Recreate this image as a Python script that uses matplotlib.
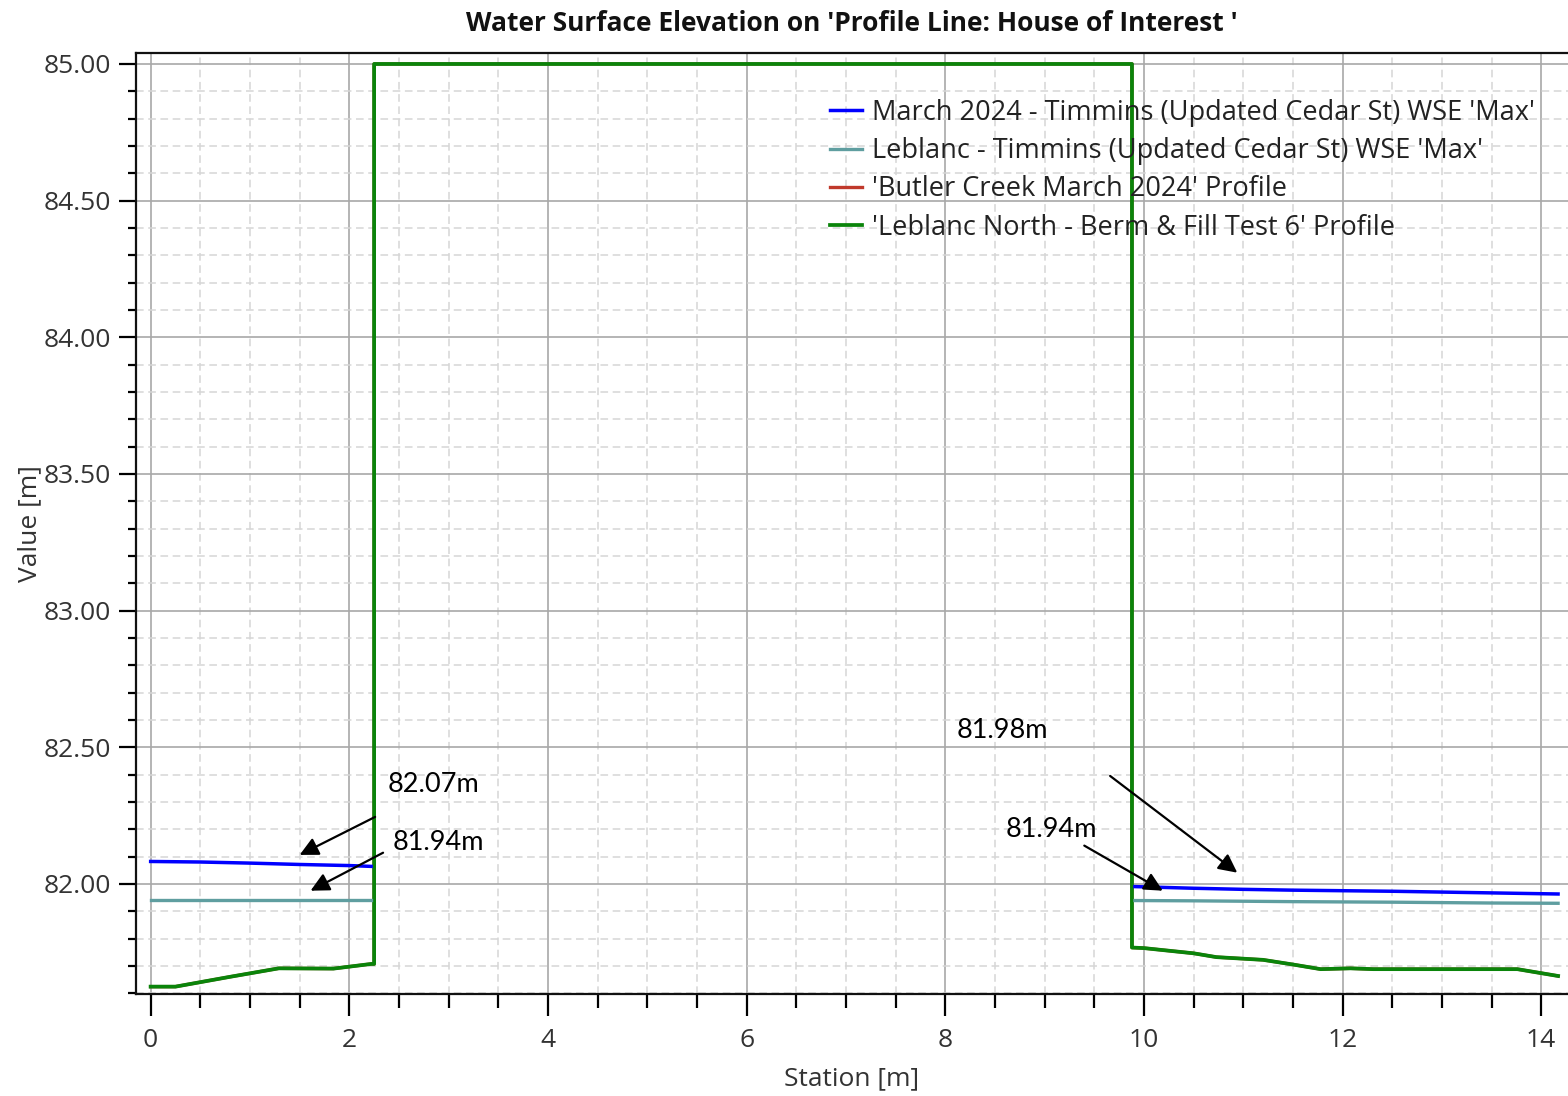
import numpy as np
import matplotlib
matplotlib.use('Agg')
import matplotlib.pyplot as plt
from matplotlib.ticker import MultipleLocator, FormatStrFormatter

# WSE max, March 2024 run (left and right of the house)
march_left_x = [0.0, 0.5, 1.0, 1.5, 2.0, 2.22]
march_left_y = [82.082, 82.080, 82.076, 82.071, 82.067, 82.064]
march_right_x = [9.91, 10.5, 11.0, 11.5, 12.0, 12.5, 13.0, 13.5, 14.17]
march_right_y = [81.990, 81.984, 81.980, 81.977, 81.975, 81.973, 81.970, 81.967, 81.963]

# WSE max, Leblanc run
leblanc_left_x = [0.0, 1.0, 2.22]
leblanc_left_y = [81.941, 81.941, 81.941]
leblanc_right_x = [9.91, 10.5, 11.5, 12.5, 13.5, 14.17]
leblanc_right_y = [81.939, 81.938, 81.935, 81.933, 81.930, 81.929]

# terrain profile along the line (both profiles coincide)
ground_x = [0.0, 0.25, 0.8, 1.29, 1.84, 2.22, 2.25, 2.25, 9.88, 9.88, 10.0, 10.5, 10.73,
            11.2, 11.5, 11.78, 12.08, 12.31, 13.0, 13.76, 14.17]
ground_y = [81.624, 81.624, 81.66, 81.691, 81.690, 81.707, 81.707, 85.0, 85.0, 81.767, 81.765,
            81.746, 81.732, 81.722, 81.705, 81.688, 81.691, 81.688, 81.688, 81.688, 81.663]

labels = ["March 2024 - Timmins (Updated Cedar St) WSE 'Max'",
          "Leblanc - Timmins (Updated Cedar St) WSE 'Max'",
          "'Butler Creek March 2024' Profile",
          "'Leblanc North - Berm & Fill Test 6' Profile"]

# callouts: text, text pos, arrow tail, arrow head
notes = [("82.07m", (2.39, 82.362), (2.26, 82.245), (1.50, 82.106)),
         ("81.94m", (2.44, 82.150), (2.34, 82.114), (1.61, 81.975)),
         ("81.98m", (8.11, 82.563), (9.66, 82.395), (10.94, 82.041)),
         ("81.94m", (8.61, 82.198), (9.40, 82.140), (10.19, 81.975))]

plt.rcParams['font.family'] = ['Open Sans', 'DejaVu Sans']

fig = plt.figure(figsize=(15.68, 10.96), dpi=100)
ax = fig.add_axes([0.0867, 0.0928, 0.9133, 0.8588])

blue = '#0000ff'
teal = '#5f9ea0'
red = '#c0392b'
green = '#0a840a'

ax.plot(march_left_x, march_left_y, color=blue, lw=2.5, label=labels[0], zorder=4)
ax.plot(march_right_x, march_right_y, color=blue, lw=2.5, zorder=4)
ax.plot(leblanc_left_x, leblanc_left_y, color=teal, lw=2.4, label=labels[1], zorder=4)
ax.plot(leblanc_right_x, leblanc_right_y, color=teal, lw=2.4, zorder=4)
ax.plot(ground_x, ground_y, color=red, lw=2.4, label=labels[2], zorder=3)
ax.plot(ground_x, ground_y, color=green, lw=2.7, label=labels[3], zorder=3)

for txt, tpos, tail, head in notes:
    ax.annotate('', xy=head, xytext=tail,
                arrowprops=dict(arrowstyle='-|>', color='black', lw=1.6,
                                mutation_scale=28, shrinkA=0, shrinkB=0), zorder=6)
    ax.text(tpos[0], tpos[1], txt, fontsize=19.5, family=['Lato', 'DejaVu Sans'],
            ha='left', va='center', color='black', zorder=6)

ax.set_xlim(-0.148, 14.27)
ax.set_ylim(81.596, 85.04)

ax.xaxis.set_major_locator(MultipleLocator(2))
ax.xaxis.set_minor_locator(MultipleLocator(0.5))
ax.yaxis.set_major_locator(MultipleLocator(0.5))
ax.yaxis.set_minor_locator(MultipleLocator(0.1))
ax.yaxis.set_major_formatter(FormatStrFormatter('%.2f'))

ax.grid(which='major', color='#a8a8a8', lw=1.2, ls='-')
ax.grid(which='minor', color='#d6d6d6', lw=1.1, ls=(0, (5, 3)))
ax.set_axisbelow(True)

ax.spines['right'].set_visible(False)
for s in ['left', 'bottom', 'top']:
    ax.spines[s].set_linewidth(1.6)
    ax.spines[s].set_color('#111111')

ax.tick_params(which='major', length=12, width=1.6, labelsize=19, labelcolor='#333333', pad=6)
ax.tick_params(axis='x', which='major', length=16, pad=8)
ax.tick_params(axis='x', which='minor', length=10, width=1.6)
ax.tick_params(axis='y', which='minor', length=6, width=1.6)

ax.set_xlabel('Station [m]', fontsize=19, color='#333333', labelpad=10)
ax.set_ylabel('Value [m]', fontsize=19, color='#333333', labelpad=1)
ax.set_title("Water Surface Elevation on 'Profile Line: House of Interest '",
             fontsize=19, fontweight='bold', color='#111111', pad=16, x=0.5)

leg = ax.legend(loc='upper left', bbox_to_anchor=(0.4846, 0.9515), frameon=False,
                fontsize=19.5, handlelength=1.2, handletextpad=0.37, labelspacing=0.38,
                borderaxespad=0, borderpad=0)
for t in leg.get_texts():
    t.set_color('#222222')

fig.savefig('out.png', dpi=100)
